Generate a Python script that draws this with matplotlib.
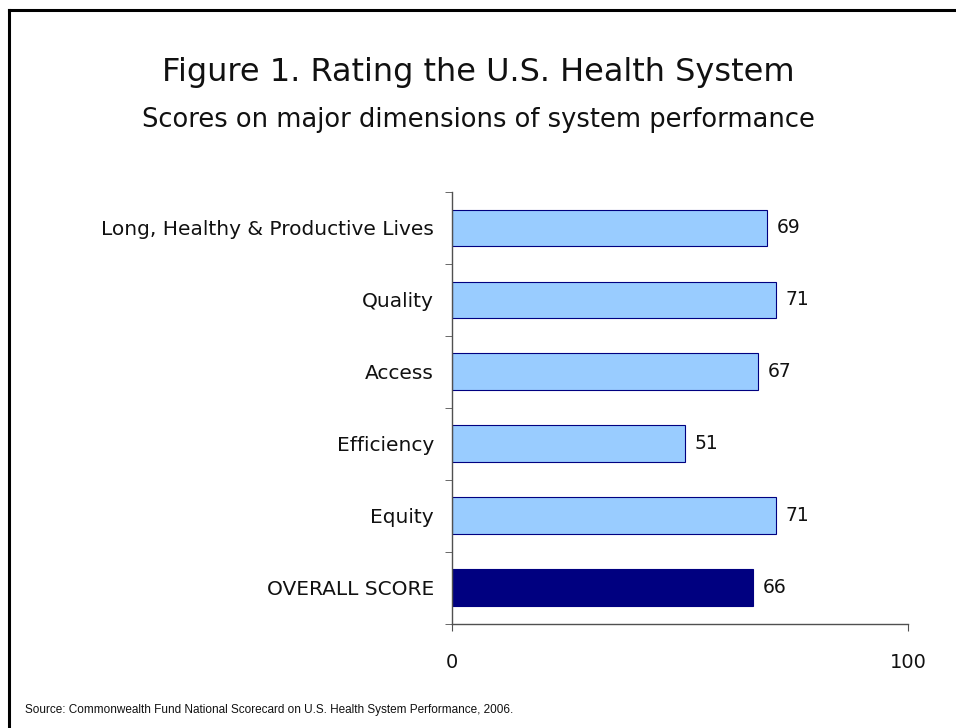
import matplotlib.pyplot as plt
from matplotlib.lines import Line2D
import numpy as np

# data (top to bottom)
categories = ['Long, Healthy & Productive Lives', 'Quality', 'Access',
              'Efficiency', 'Equity', 'OVERALL SCORE']
scores = [69, 71, 67, 51, 71, 66]
bar_colors = ['#99CCFF', '#99CCFF', '#99CCFF', '#99CCFF', '#99CCFF', '#000080']
x_ticks = [0, 100]

W, H = 956, 728
fig = plt.figure(figsize=(W / 100, H / 100), dpi=100)
fig.patch.set_facecolor('white')

# frame (top and left edges visible)
fig.add_artist(Line2D([9 / W, 1.0], [1 - 10 / H, 1 - 10 / H], color='black', lw=2.2,
                      transform=fig.transFigure))
fig.add_artist(Line2D([9 / W, 9 / W], [0.0, 1 - 10 / H], color='black', lw=2.2,
                      transform=fig.transFigure))

ax = fig.add_axes([452 / W, 1 - 623.5 / H, (908 - 452) / W, (623.5 - 192) / H])

y = np.arange(len(categories))[::-1]
ax.barh(y, scores, height=0.51, color=bar_colors, edgecolor='#000080', linewidth=0.8)

for yi, s in zip(y, scores):
    ax.text(s + 2.2, yi, str(s), va='center', ha='left', fontsize=13.5, color='#111111')

ax.set_xlim(0, 100)
ax.set_ylim(-0.5, len(categories) - 0.5)
ax.set_xticks(x_ticks)
ax.set_xticklabels([str(t) for t in x_ticks], fontsize=14, color='#111111')
ax.set_yticks(y)
ax.set_yticklabels(categories, fontsize=14.5, color='#111111')
ax.set_yticks(np.arange(-0.5, len(categories), 1.0), minor=True)
ax.tick_params(axis='y', which='major', length=0, pad=13)
ax.tick_params(axis='y', which='minor', length=5, direction='out', color='#505050')
ax.tick_params(axis='x', length=5, direction='out', color='#505050', pad=16)

for side in ['top', 'right']:
    ax.spines[side].set_visible(False)
for side in ['left', 'bottom']:
    ax.spines[side].set_color('#505050')
    ax.spines[side].set_linewidth(1.0)

fig.text(0.5, 1 - 73 / H, 'Figure 1. Rating the U.S. Health System', ha='center', va='center',
         fontsize=23, color='#111111')
fig.text(0.5, 1 - 120 / H, 'Scores on major dimensions of system performance', ha='center',
         va='center', fontsize=18.5, color='#111111')
fig.text(25 / W, 1 - 710 / H,
         'Source: Commonwealth Fund National Scorecard on U.S. Health System Performance, 2006.',
         ha='left', va='center', fontsize=8.5, family='Liberation Sans', color='#111111')

fig.savefig('out.png', dpi=100)
